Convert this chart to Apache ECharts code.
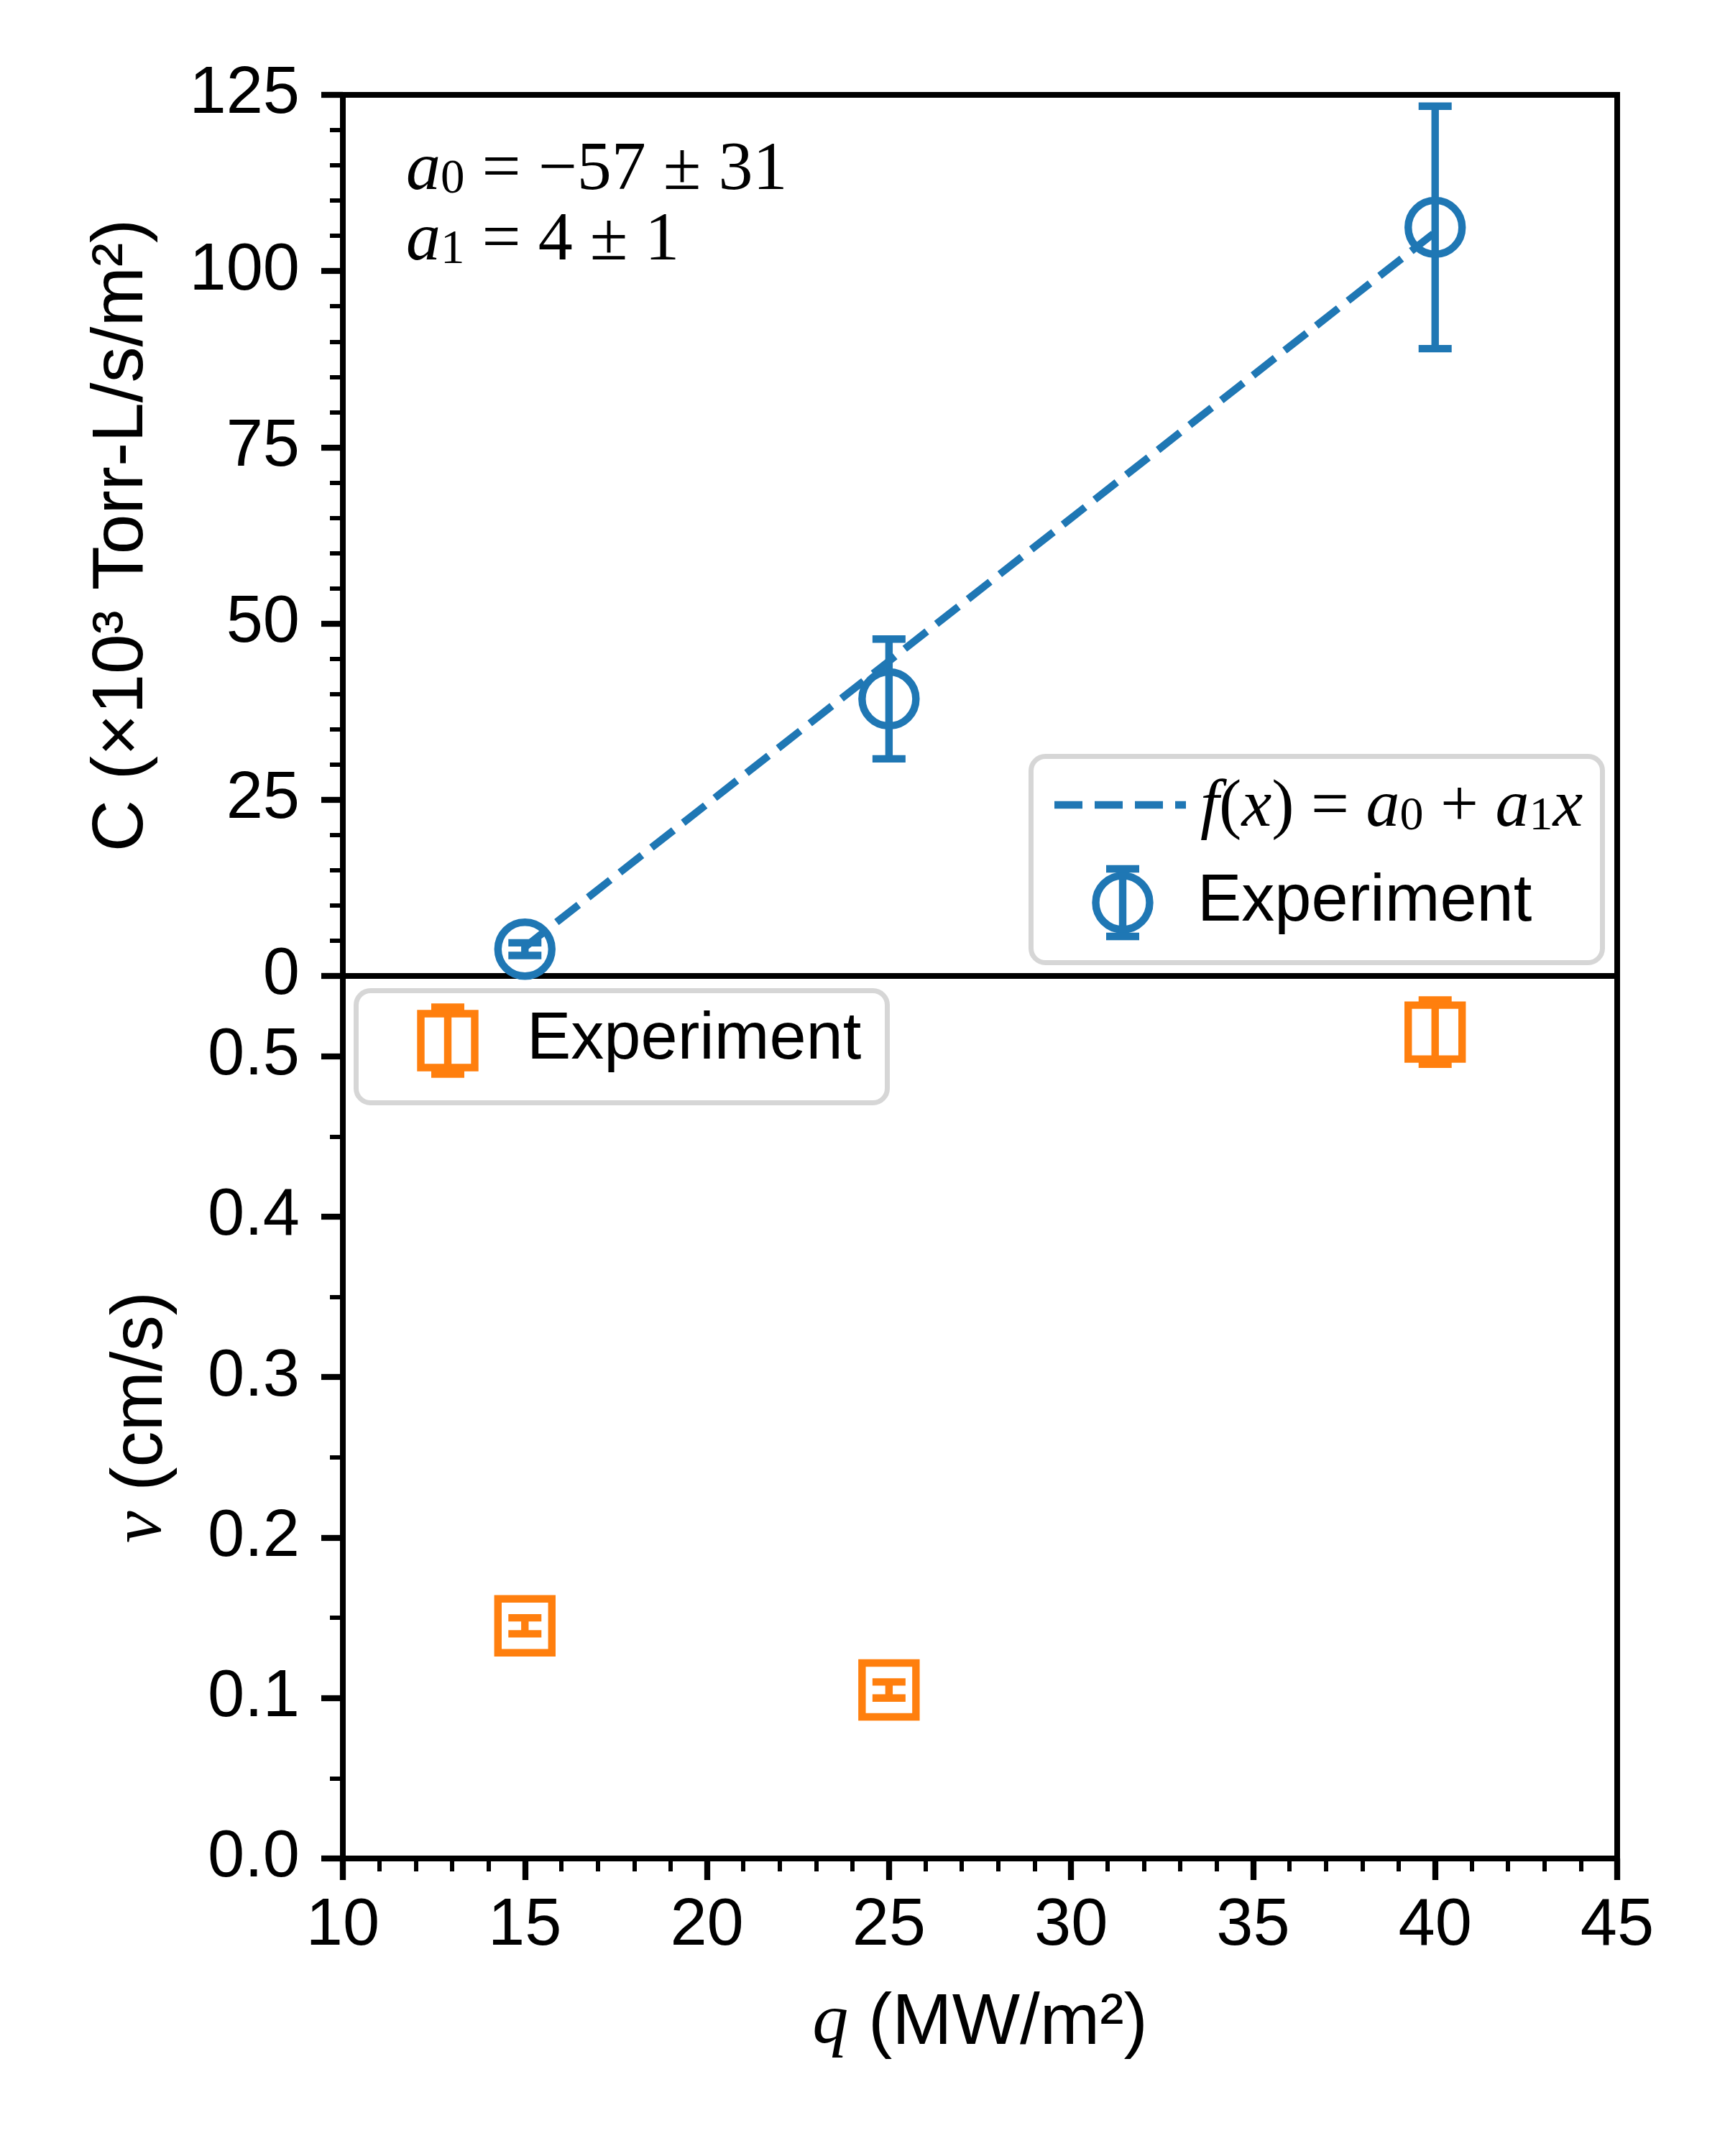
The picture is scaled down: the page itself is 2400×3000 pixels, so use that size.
<!DOCTYPE html>
<html><head><meta charset="utf-8">
<script src="https://cdn.jsdelivr.net/npm/echarts@6/dist/echarts.min.js"></script>
<style>html,body{margin:0;padding:0;background:#fff}#c{width:2400px;height:3000px}</style>
</head><body><div id="c"></div>
<script>
// ---- data ----
const qValues = [15, 25, 40];               // heat flux q (MW/m^2)
const cValues = [3.8, 39.3, 106.2];         // C (x10^3 Torr-L/s/m^2)
const cErrors = [0.9, 8.5, 17.2];
const vValues = [0.145, 0.105, 0.515];      // nu (cm/s)
const vErrors = [0.005, 0.005, 0.02];
const fitQ = [15, 40];                      // dashed fit line end points
const fitC = [4.1, 105.5];
const xTicks = [10, 15, 20, 25, 30, 35, 40, 45];
const cTicks = [0, 25, 50, 75, 100, 125];
const vTicks = [0, 0.1, 0.2, 0.3, 0.4, 0.5];
const vMinorTicks = [0.05, 0.15, 0.25, 0.35, 0.45];
const vMax = 0.55;

// ---- style ----
const BLUE = '#1f77b4', ORANGE = '#ff7f0e';
const SANS = 'Liberation Sans', SERIF = 'Liberation Serif';
const TICK_FS = 92, LABEL_FS = 100;
const LW = 10.4, CAP = 23;
const G = {left: 477, right: 2250, top: 132, mid: 1358, bottom: 2586};

function errorBar(color) {
  return function (params, api) {
    const x = api.value(0);
    const lo = api.coord([x, api.value(1)]);
    const hi = api.coord([x, api.value(2)]);
    const st = {stroke: color, lineWidth: LW};
    return {type: 'group', children: [
      {type: 'line', shape: {x1: lo[0], y1: lo[1], x2: hi[0], y2: hi[1]}, style: st},
      {type: 'line', shape: {x1: lo[0] - CAP, y1: lo[1], x2: lo[0] + CAP, y2: lo[1]}, style: st},
      {type: 'line', shape: {x1: hi[0] - CAP, y1: hi[1], x2: hi[0] + CAP, y2: hi[1]}, style: st}
    ]};
  };
}

const axisLine = {show: true, lineStyle: {color: '#000', width: 8}};
const majorTick = {show: true, length: 30, lineStyle: {color: '#000', width: 8.3}};
const minorTickStyle = {color: '#000', width: 6};
const tickLabel = {color: '#000', fontFamily: SANS, fontSize: TICK_FS};

function mathRich(fs) {
  return {
    it: {fontFamily: SERIF, fontStyle: 'italic', fontSize: fs, lineHeight: 92, color: '#000'},
    rm: {fontFamily: SERIF, fontSize: fs, lineHeight: 92, color: '#000'},
    sub: {fontFamily: SERIF, fontSize: Math.round(fs * 0.7), lineHeight: 44, verticalAlign: 'bottom', color: '#000'}
  };
}

function legendErr(cx, cy, color, half) {
  const st = {stroke: color, lineWidth: LW};
  return [
    {type: 'line', shape: {x1: cx, y1: cy - half, x2: cx, y2: cy + half}, style: st},
    {type: 'line', shape: {x1: cx - CAP, y1: cy - half, x2: cx + CAP, y2: cy - half}, style: st},
    {type: 'line', shape: {x1: cx - CAP, y1: cy + half, x2: cx + CAP, y2: cy + half}, style: st}
  ];
}

const frameStyle = {fill: '#fff', stroke: '#d6d6d6', lineWidth: 7};

const option = {
  animation: false,
  backgroundColor: '#fff',
  grid: [
    {left: G.left, top: G.top, width: G.right - G.left, height: G.mid - G.top,
     show: true, borderColor: '#000', borderWidth: 8, backgroundColor: 'transparent'},
    {left: G.left, top: G.mid, width: G.right - G.left, height: G.bottom - G.mid,
     show: true, borderColor: '#000', borderWidth: 8, backgroundColor: 'transparent'}
  ],
  xAxis: [
    {type: 'value', gridIndex: 0, min: xTicks[0], max: xTicks[xTicks.length - 1],
     interval: xTicks[1] - xTicks[0], axisLine: axisLine, axisTick: {show: false},
     axisLabel: {show: false}, splitLine: {show: false}},
    {type: 'value', gridIndex: 1, min: xTicks[0], max: xTicks[xTicks.length - 1],
     interval: xTicks[1] - xTicks[0], axisLine: axisLine, axisTick: majorTick,
     minorTick: {show: true, splitNumber: 5, length: 18, lineStyle: minorTickStyle},
     axisLabel: Object.assign({margin: 49}, tickLabel), splitLine: {show: false},
     name: '{i|q} (MW/m²)', nameLocation: 'middle', nameGap: 180,
     nameTextStyle: {color: '#000', fontFamily: SANS, fontSize: LABEL_FS, lineHeight: 100,
       rich: {i: {fontFamily: SERIF, fontStyle: 'italic', fontSize: LABEL_FS, lineHeight: 100}}}}
  ],
  yAxis: [
    {type: 'value', gridIndex: 0, position: 'left', min: cTicks[0], max: cTicks[cTicks.length - 1],
     interval: cTicks[1] - cTicks[0], axisLine: axisLine, axisTick: majorTick,
     minorTick: {show: true, splitNumber: 5, length: 18, lineStyle: minorTickStyle},
     axisLabel: Object.assign({margin: 60}, tickLabel), splitLine: {show: false},
     name: 'C (×10³ Torr-L/s/m²)', nameLocation: 'middle', nameGap: 257,
     nameTextStyle: {color: '#000', fontFamily: SANS, fontSize: LABEL_FS, lineHeight: 100}},
    {type: 'value', gridIndex: 1, position: 'left', min: vTicks[0], max: vMax,
     axisLine: axisLine,
     axisTick: Object.assign({customValues: vTicks}, majorTick),
     axisLabel: Object.assign({margin: 60, customValues: vTicks,
       formatter: v => v.toFixed(1)}, tickLabel),
     splitLine: {show: false},
     name: '{i|ν} (cm/s)', nameLocation: 'middle', nameGap: 230,
     nameTextStyle: {color: '#000', fontFamily: SANS, fontSize: LABEL_FS, lineHeight: 100,
       rich: {i: {fontFamily: SERIF, fontStyle: 'italic', fontSize: LABEL_FS, lineHeight: 100}}}},
    {type: 'value', gridIndex: 1, position: 'left', offset: 0, min: vTicks[0], max: vMax,
     axisLine: {show: false},
     axisTick: {show: true, customValues: vMinorTicks, length: 18, lineStyle: minorTickStyle},
     axisLabel: {show: false}, splitLine: {show: false}}
  ],
  series: [
    {type: 'line', xAxisIndex: 0, yAxisIndex: 0, name: 'fit',
     data: fitQ.map((q, i) => [q, fitC[i]]), showSymbol: false, symbol: 'none',
     lineStyle: {color: BLUE, width: LW, type: [39, 17]}, silent: true, z: 3},
    {type: 'custom', xAxisIndex: 0, yAxisIndex: 0, name: 'C err',
     data: qValues.map((q, i) => [q, cValues[i] - cErrors[i], cValues[i] + cErrors[i]]),
     encode: {x: 0, y: [1, 2]}, renderItem: errorBar(BLUE), silent: true, z: 4},
    {type: 'scatter', xAxisIndex: 0, yAxisIndex: 0, name: 'C',
     data: qValues.map((q, i) => [q, cValues[i]]), symbol: 'circle', symbolSize: 75,
     itemStyle: {color: 'rgba(255,255,255,0)', borderColor: BLUE, borderWidth: LW, opacity: 1},
     silent: true, z: 5},
    {type: 'custom', xAxisIndex: 1, yAxisIndex: 1, name: 'v err',
     data: qValues.map((q, i) => [q, vValues[i] - vErrors[i], vValues[i] + vErrors[i]]),
     encode: {x: 0, y: [1, 2]}, renderItem: errorBar(ORANGE), silent: true, z: 4},
    {type: 'scatter', xAxisIndex: 1, yAxisIndex: 1, name: 'v',
     data: qValues.map((q, i) => [q, vValues[i]]), symbol: 'rect', symbolSize: 75,
     itemStyle: {color: 'rgba(255,255,255,0)', borderColor: ORANGE, borderWidth: LW, opacity: 1},
     silent: true, z: 5}
  ],
  graphic: [
    // fit-parameter annotation
    {type: 'text', left: 565, top: 236 - 46, z: 10,
     style: {text: '{it|a}{sub|0}{rm| = −57 ± 31}', rich: mathRich(96)}},
    {type: 'text', left: 565, top: 334 - 46, z: 10,
     style: {text: '{it|a}{sub|1}{rm| = 4 ± 1}', rich: mathRich(96)}},
    // legend, top panel
    {type: 'group', z: 20, children: [
      {type: 'rect', shape: {x: 1434.5, y: 1052.5, width: 795, height: 287, r: 20}, style: frameStyle},
      {type: 'line', shape: {x1: 1467, y1: 1120, x2: 1650, y2: 1120},
       style: {stroke: BLUE, lineWidth: LW, lineDash: [39, 17]}},
      {type: 'text', x: 1670, y: 1124,
       style: {text: '{it|f}{rm|(}{it|x}{rm|) = }{it|a}{sub|0}{rm| + }{it|a}{sub|1}{it|x}',
               rich: mathRich(94), verticalAlign: 'middle'}},
      {type: 'circle', shape: {cx: 1562, cy: 1256, r: 37.5},
       style: {fill: 'none', stroke: BLUE, lineWidth: LW}}
    ].concat(legendErr(1562, 1256, BLUE, 47)).concat([
      {type: 'text', x: 1666, y: 1256,
       style: {text: 'Experiment', font: '92px "Liberation Sans"', fill: '#000', verticalAlign: 'middle'}}
    ])},
    // legend, bottom panel
    {type: 'group', z: 20, children: [
      {type: 'rect', shape: {x: 495.5, y: 1378.5, width: 739, height: 156, r: 20}, style: frameStyle},
      {type: 'rect', shape: {x: 585.5, y: 1410.5, width: 75, height: 75},
       style: {fill: 'none', stroke: ORANGE, lineWidth: LW}}
    ].concat(legendErr(623, 1448, ORANGE, 46.5)).concat([
      {type: 'text', x: 733, y: 1448,
       style: {text: 'Experiment', font: '92px "Liberation Sans"', fill: '#000', verticalAlign: 'middle'}}
    ])}
  ]
};

const chart = echarts.init(document.getElementById('c'), null, {renderer: 'canvas'});
chart.setOption(option);
</script>
</body></html>
